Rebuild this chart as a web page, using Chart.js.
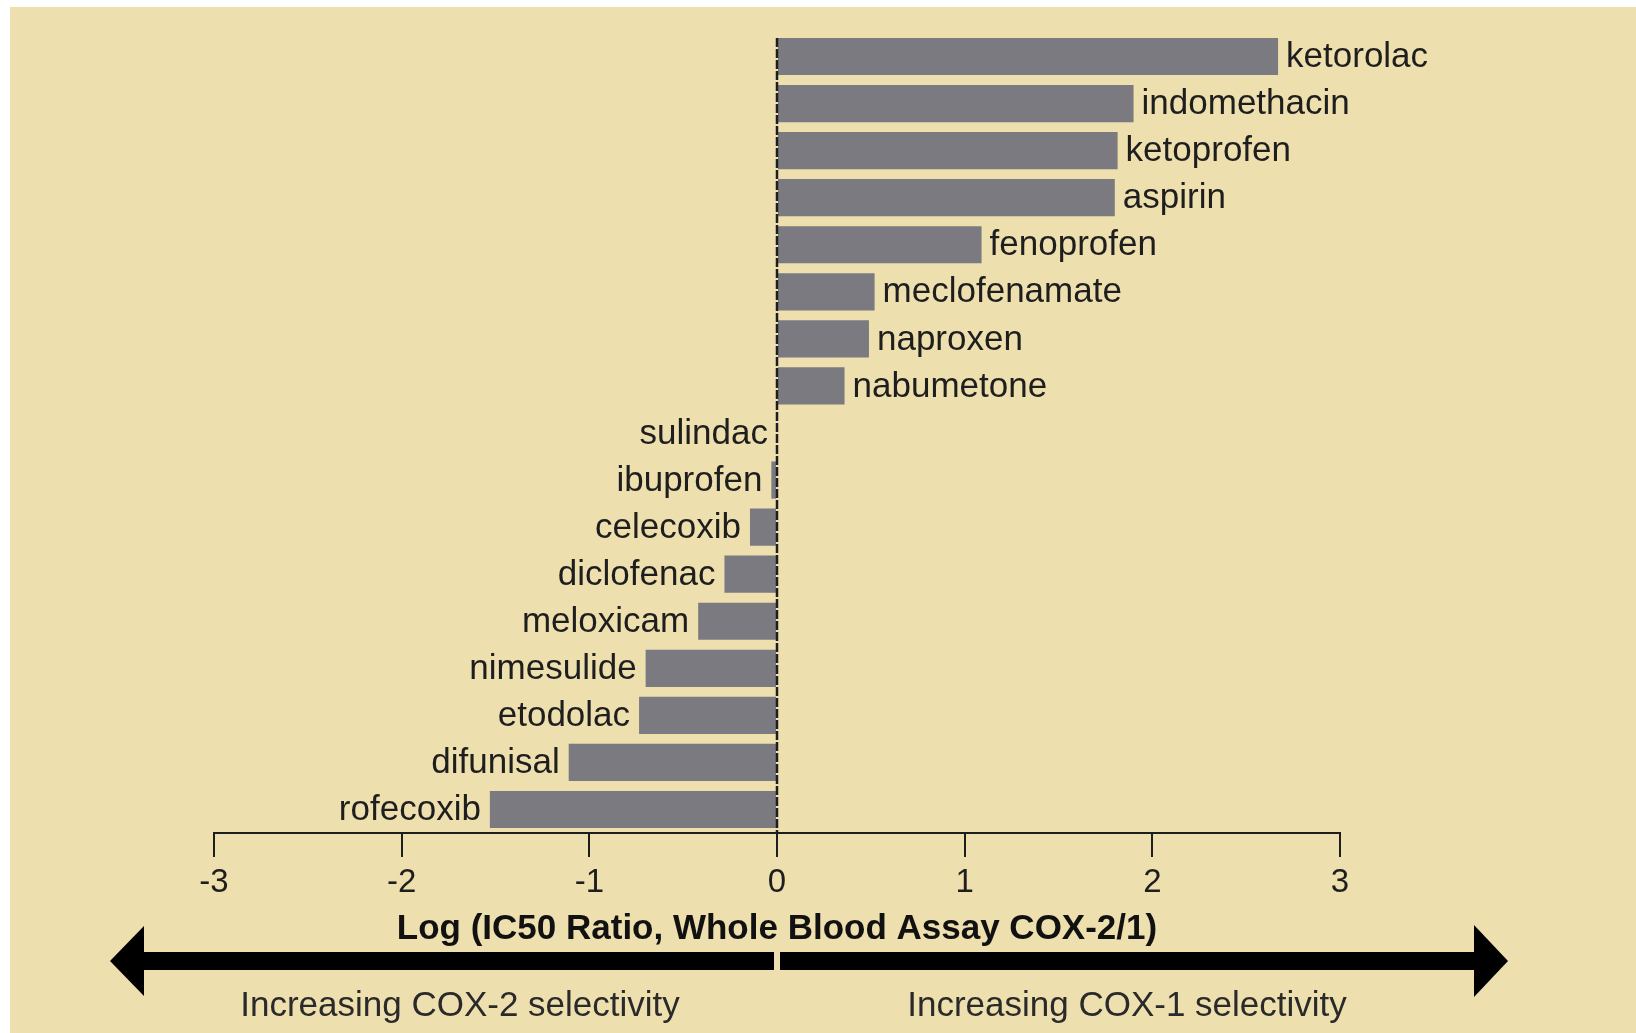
<!DOCTYPE html>
<html><head><meta charset="utf-8">
<script src="https://cdn.jsdelivr.net/npm/chart.js@4.4.1/dist/chart.umd.min.js"></script>
<style>html,body{margin:0;padding:0;background:#fff;} #wrap{width:1636px;height:1033px;position:relative;}</style>
</head><body><div id="wrap"><canvas id="c" width="1636" height="1033"></canvas></div>
<script>
const drugs = ['ketorolac','indomethacin','ketoprofen','aspirin','fenoprofen','meclofenamate','naproxen','nabumetone','sulindac','ibuprofen','celecoxib','diclofenac','meloxicam','nimesulide','etodolac','difunisal','rofecoxib'];
const logRatio = [2.67,1.90,1.815,1.80,1.09,0.52,0.49,0.36,0,-0.03,-0.144,-0.28,-0.42,-0.70,-0.735,-1.11,-1.53];
const xTicks = [-3,-2,-1,0,1,2,3];
const axisTitle = 'Log (IC50 Ratio, Whole Blood Assay COX-2/1)';
const leftCaption = 'Increasing COX-2 selectivity';
const rightCaption = 'Increasing COX-1 selectivity';

const FONT = '"Liberation Sans", Arial, Helvetica, sans-serif';
const BEIGE = '#eedfae';
const INK = '#1e1e1e';

const bgPlugin = {
  id: 'bg',
  beforeDraw(chart) {
    const ctx = chart.ctx;
    ctx.save();
    ctx.fillStyle = '#ffffff';
    ctx.fillRect(0, 0, chart.width, chart.height);
    ctx.fillStyle = BEIGE;
    ctx.fillRect(10, 7, chart.width - 10, chart.height - 7);
    ctx.restore();
  }
};

const labelPlugin = {
  id: 'barLabels',
  afterDatasetsDraw(chart) {
    const ctx = chart.ctx;
    const xs = chart.scales.x;
    const area = chart.chartArea;
    const zx = Math.round(xs.getPixelForValue(0));
    const meta = chart.getDatasetMeta(0);
    ctx.save();
    // zero reference line
    ctx.strokeStyle = INK;
    ctx.lineWidth = 2.5;
    ctx.setLineDash([9, 2]);
    ctx.beginPath();
    ctx.moveTo(zx, meta.data[0].y - meta.data[0].height / 2);
    ctx.lineTo(zx, area.bottom);
    ctx.stroke();
    ctx.setLineDash([]);
    // labels
    ctx.font = '35px ' + FONT;
    ctx.fillStyle = INK;
    ctx.textBaseline = 'middle';
    meta.data.forEach((bar, i) => {
      const v = logRatio[i];
      if (v > 0) {
        ctx.textAlign = 'left';
        ctx.fillText(drugs[i], bar.x + 8, bar.y + 1);
      } else {
        ctx.textAlign = 'right';
        ctx.fillText(drugs[i], Math.min(bar.x, zx) - 9, bar.y + 1);
      }
    });
    ctx.restore();
  }
};

const arrowPlugin = {
  id: 'arrow',
  afterDraw(chart) {
    const ctx = chart.ctx;
    const zx = Math.round(chart.scales.x.getPixelForValue(0));
    ctx.save();
    ctx.fillStyle = '#000';
    // shaft
    ctx.fillRect(140, 952, zx - 3 - 140, 18);
    ctx.fillRect(zx + 3, 952, 1478 - (zx + 3), 18);
    // heads
    ctx.beginPath();
    ctx.moveTo(110, 961); ctx.lineTo(144, 926); ctx.lineTo(144, 996); ctx.closePath(); ctx.fill();
    ctx.beginPath();
    ctx.moveTo(1508, 961); ctx.lineTo(1474, 925); ctx.lineTo(1474, 997); ctx.closePath(); ctx.fill();
    // captions
    ctx.font = '35px ' + FONT;
    ctx.fillStyle = '#2a2a2a';
    ctx.textAlign = 'center';
    ctx.textBaseline = 'middle';
    ctx.fillText(leftCaption, 460, 1006);
    ctx.fillText(rightCaption, 1127, 1006);
    ctx.restore();
  }
};

new Chart(document.getElementById('c'), {
  type: 'bar',
  data: {
    labels: drugs,
    datasets: [{
      data: logRatio,
      backgroundColor: '#7a7a80',
      borderWidth: 0,
      barPercentage: 0.79,
      categoryPercentage: 1.0
    }]
  },
  options: {
    indexAxis: 'y',
    responsive: false,
    animation: false,
    devicePixelRatio: 1,
    layout: { padding: { left: 214, right: 296, top: 33, bottom: 0 } },
    plugins: { legend: { display: false }, tooltip: { enabled: false } },
    scales: {
      y: { display: false },
      x: {
        type: 'linear',
        min: -3, max: 3,
        afterBuildTicks: s => { s.ticks = xTicks.map(v => ({ value: v })); },
        afterFit: s => { s.height = 200; },
        border: { display: true, color: INK, width: 2 },
        grid: { drawOnChartArea: false, drawTicks: true, tickLength: 24, color: INK, lineWidth: 2 },
        ticks: { color: INK, padding: 6, font: { family: FONT, size: 33 }, maxRotation: 0 },
        title: {
          display: true, text: axisTitle, color: '#111',
          font: { family: FONT, size: 35, weight: 'bold' },
          padding: { top: 0, bottom: 83 }
        }
      }
    }
  },
  plugins: [bgPlugin, labelPlugin, arrowPlugin]
});
</script>
</body></html>
